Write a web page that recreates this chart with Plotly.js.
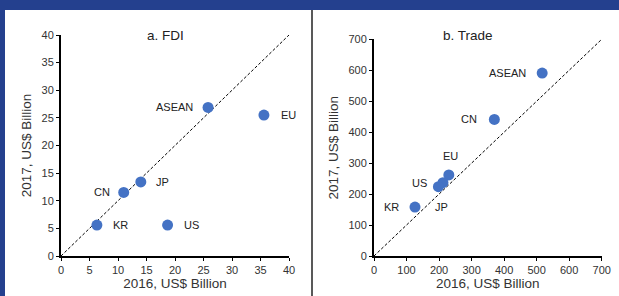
<!DOCTYPE html>
<html><head><meta charset="utf-8">
<script src="https://cdn.plot.ly/plotly-3.0.1.min.js"></script>
<style>html,body{margin:0;padding:0;background:#fff}#c{width:619px;height:296px}</style>
</head><body><div id="c"></div>
<script>
// Panel a: FDI (US$ Billion)
const fdiNames = ["ASEAN", "EU", "JP", "CN", "KR", "US"];
const fdi2016 = [25.8, 35.6, 14.0, 11.0, 6.3, 18.7];
const fdi2017 = [26.9, 25.5, 13.4, 11.5, 5.6, 5.6];
// Panel b: Trade (US$ Billion)
const tradeNames = ["ASEAN", "CN", "EU", "US", "JP", "KR"];
const trade2016 = [517, 370, 230, 212, 198, 126];
const trade2017 = [591, 441, 262, 237, 224, 158];
const fdiDiag = [0, 40];
const tradeDiag = [0, 700];
const panelTitles = ["a. FDI", "b. Trade"];
const xTitle = "2016, US$ Billion";
const yTitle = "2017, US$ Billion";

// label placement styles: [xanchor, xshift, yshift]
const fdiLabelStyle = [["right", -13, 0], ["left", 15, 0], ["left", 13, 0], ["right", -12, 0], ["left", 14, 0], ["left", 14, 0]];
const tradeLabelStyle = [["right", -14, 0], ["right", -15, 0], ["center", 2, 19], ["right", -14, 0], ["center", 3, -20], ["right", -14, 0]];

const W = 619, H = 296;
const blue = "#4472C4";
const font = "Liberation Sans, Arial, sans-serif";

const traces = [
  {x: fdiDiag, y: fdiDiag, mode: "lines", line: {color: "#000", width: 1, dash: "3px,2px"}, xaxis: "x", yaxis: "y", hoverinfo: "skip"},
  {x: fdi2016, y: fdi2017, mode: "markers", marker: {color: blue, size: 11}, xaxis: "x", yaxis: "y"},
  {x: tradeDiag, y: tradeDiag, mode: "lines", line: {color: "#000", width: 1, dash: "3px,2px"}, xaxis: "x2", yaxis: "y2", hoverinfo: "skip"},
  {x: trade2016, y: trade2017, mode: "markers", marker: {color: blue, size: 11}, xaxis: "x2", yaxis: "y2"}
];

function ax(domain, range, dtick, anchor, title, standoff) {
  return {domain: domain, range: range, dtick: dtick, anchor: anchor, showgrid: false, zeroline: false,
    showline: true, linecolor: "#000", linewidth: 2, ticks: "outside", ticklen: 3, tickcolor: "#000", tickwidth: 1,
    tickfont: {size: 11, color: "#333", family: font}, fixedrange: true,
    title: {text: title, font: {size: 13.5, color: "#333", family: font}, standoff: standoff}};
}

const annotations = [
  {text: panelTitles[0], xref: "paper", yref: "paper", x: 165 / W, y: 1 - 36 / H, showarrow: false, xanchor: "center", yanchor: "middle", font: {size: 13.5, color: "#222", family: font}},
  {text: panelTitles[1], xref: "paper", yref: "paper", x: 468 / W, y: 1 - 36 / H, showarrow: false, xanchor: "center", yanchor: "middle", font: {size: 13.5, color: "#222", family: font}}
];
function addLabels(names, xs, ys, styles, xr, yr) {
  names.forEach((n, i) => {
    const s = styles[i];
    annotations.push({text: n, x: xs[i], y: ys[i], xref: xr, yref: yr, showarrow: false,
      xanchor: s[0], yanchor: "middle", xshift: s[1], yshift: s[2],
      font: {size: 11, color: "#222", family: font}});
  });
}
addLabels(fdiNames, fdi2016, fdi2017, fdiLabelStyle, "x", "y");
addLabels(tradeNames, trade2016, trade2017, tradeLabelStyle, "x2", "y2");

const layout = {
  width: W, height: H, margin: {l: 0, r: 0, t: 0, b: 0},
  paper_bgcolor: "#fff", plot_bgcolor: "rgba(0,0,0,0)", showlegend: false,
  xaxis: ax([61 / W, 289 / W], [0, 40], 5, "y", xTitle, 3),
  yaxis: ax([1 - 256 / H, 1 - 35 / H], [0, 40], 5, "x", yTitle, 7),
  xaxis2: ax([374 / W, 601.7 / W], [0, 700], 100, "y2", xTitle, 3),
  yaxis2: ax([1 - 256 / H, 1 - 39.3 / H], [0, 700], 100, "x2", yTitle, 7),
  shapes: [
    {type: "rect", xref: "paper", yref: "paper", x0: 0, x1: 1, y0: 1 - 10 / H, y1: 1, fillcolor: "#24408e", line: {width: 0}},
    {type: "rect", xref: "paper", yref: "paper", x0: 0, x1: 5 / W, y0: 0, y1: 1, fillcolor: "#24408e", line: {width: 0}},
    {type: "line", xref: "paper", yref: "paper", x0: 312 / W, x1: 312 / W, y0: 0, y1: 1 - 10 / H, line: {color: "#595959", width: 2}}
  ],
  annotations: annotations
};
Plotly.newPlot("c", traces, layout, {staticPlot: true, displayModeBar: false});
</script></body></html>
